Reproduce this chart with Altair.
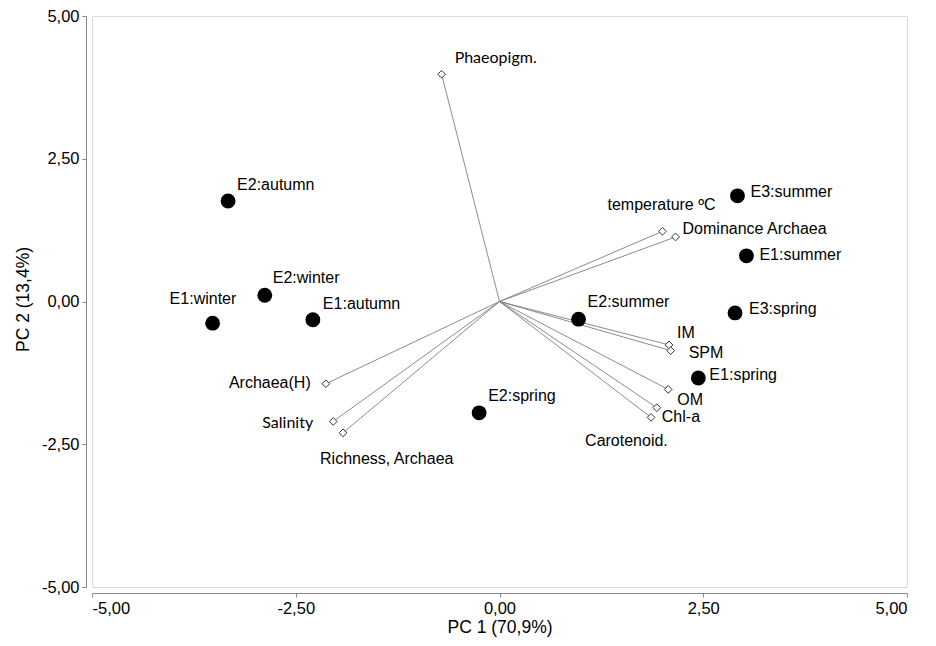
import altair as alt
import pandas as pd

# Sample scores (PC1, PC2)
samples = ["E2:autumn", "E2:winter", "E1:winter", "E1:autumn", "E2:summer",
           "E2:spring", "E3:summer", "E1:summer", "E3:spring", "E1:spring"]
sample_pc1 = [-3.33, -2.88, -3.52, -2.29, 0.97, -0.25, 2.92, 3.03, 2.89, 2.44]
sample_pc2 = [1.76, 0.11, -0.38, -0.32, -0.31, -1.95, 1.85, 0.80, -0.20, -1.34]

# Variable loadings (PC1, PC2)
variables = ["Phaeopigm.", "temperature ºC", "Dominance Archaea", "IM", "SPM",
             "OM", "Chl-a", "Carotenoid.", "Archaea(H)", "Salinity",
             "Richness, Archaea"]
var_pc1 = [-0.71, 2.00, 2.16, 2.08, 2.10, 2.07, 1.93, 1.86, -2.13, -2.04, -1.92]
var_pc2 = [3.98, 1.23, 1.13, -0.76, -0.86, -1.54, -1.86, -2.03, -1.44, -2.10, -2.30]

# Label placement (pixel offsets of the label start from its marker)
sample_dx = [9, 8, -43, 10, 9, 9, 13, 13, 14, 11]
sample_dy = [-16, -17, -24, -16, -17, -17, -4, -1, -4, -3]
var_dx = [13, -55, 7, 8, 18, 9, 5, -66, -97, -71, -23]
var_dy = [-16, -26, -8, -12, 2, 11, 9, 24, -1, 2, 26]
calibri_like = ["Phaeopigm.", "Salinity"]

tick_vals = [-5, -2.5, 0, 2.5, 5]

W, H = 815, 571
PX_X = W / 10.0  # pixels per PC1 unit
PX_Y = H / 10.0  # pixels per PC2 unit

sdf = pd.DataFrame({"label": samples, "pc1": sample_pc1, "pc2": sample_pc2})
sdf["lx"] = sdf["pc1"] + pd.Series(sample_dx) / PX_X
sdf["ly"] = sdf["pc2"] - pd.Series(sample_dy) / PX_Y

vdf = pd.DataFrame({"label": variables, "pc1": var_pc1, "pc2": var_pc2,
                    "x0": 0.0, "y0": 0.0})
vdf["lx"] = vdf["pc1"] + pd.Series(var_dx) / PX_X
vdf["ly"] = vdf["pc2"] - pd.Series(var_dy) / PX_Y
vdf["cal"] = vdf["label"].isin(calibri_like)

label_expr = "replace(replace(format(datum.value, '.2f'), '.', ','), '\u2212', '-')"

xscale = alt.Scale(domain=[-5, 5], nice=False, zero=False)
yscale = alt.Scale(domain=[-5, 5], nice=False, zero=False)

axis_common = dict(values=tick_vals, labelExpr=label_expr, grid=False,
                   domainColor="#868686", tickColor="#868686", tickSize=4,
                   labelFont="Liberation Sans", labelFontSize=16.5, labelColor="#000000",
                   titleFont="Liberation Sans", titleFontSize=17.5, titleColor="#000000",
                   titleFontWeight="normal", offset=6, labelPadding=3)

xaxis = alt.Axis(title="PC 1 (70,9%)", titlePadding=2, **axis_common)
yaxis = alt.Axis(title="PC 2 (13,4%)", titlePadding=9, titleY=283, **axis_common)

vectors = alt.Chart(vdf).mark_rule(color="#7f7f7f", strokeWidth=0.9).encode(
    x=alt.X("x0:Q", scale=xscale, axis=xaxis),
    y=alt.Y("y0:Q", scale=yscale, axis=yaxis),
    x2="pc1:Q", y2="pc2:Q")

diamonds = alt.Chart(vdf).mark_point(shape="diamond", filled=True, fill="white",
                                     stroke="#333333", strokeWidth=1, size=60, opacity=1).encode(
    x=alt.X("pc1:Q", scale=xscale), y=alt.Y("pc2:Q", scale=yscale))

circles = alt.Chart(sdf).mark_circle(color="black", size=220, opacity=1).encode(
    x=alt.X("pc1:Q", scale=xscale), y=alt.Y("pc2:Q", scale=yscale))

sample_text = alt.Chart(sdf).mark_text(align="left", baseline="middle",
                                       font="Liberation Sans", fontSize=16, color="black").encode(
    x=alt.X("lx:Q", scale=xscale), y=alt.Y("ly:Q", scale=yscale), text="label:N")

var_text_arial = alt.Chart(vdf).transform_filter("!datum.cal").mark_text(
    align="left", baseline="middle", font="Liberation Sans",
    fontSize=16, color="black").encode(
    x=alt.X("lx:Q", scale=xscale), y=alt.Y("ly:Q", scale=yscale), text="label:N")

var_text_cal = alt.Chart(vdf).transform_filter("datum.cal").mark_text(
    align="left", baseline="middle", font="Lato",
    fontSize=16, color="black").encode(
    x=alt.X("lx:Q", scale=xscale), y=alt.Y("ly:Q", scale=yscale), text="label:N")

chart = alt.layer(vectors, diamonds, circles, sample_text, var_text_arial, var_text_cal).properties(
    width=W, height=H,
    autosize=alt.AutoSizeParams(type="none"),
    padding={"left": 84, "top": 8, "right": 13, "bottom": 51},
).configure_view(stroke=None).configure(background="white")

chart.save("out.html", embed_options={"renderer": "svg", "actions": False})
